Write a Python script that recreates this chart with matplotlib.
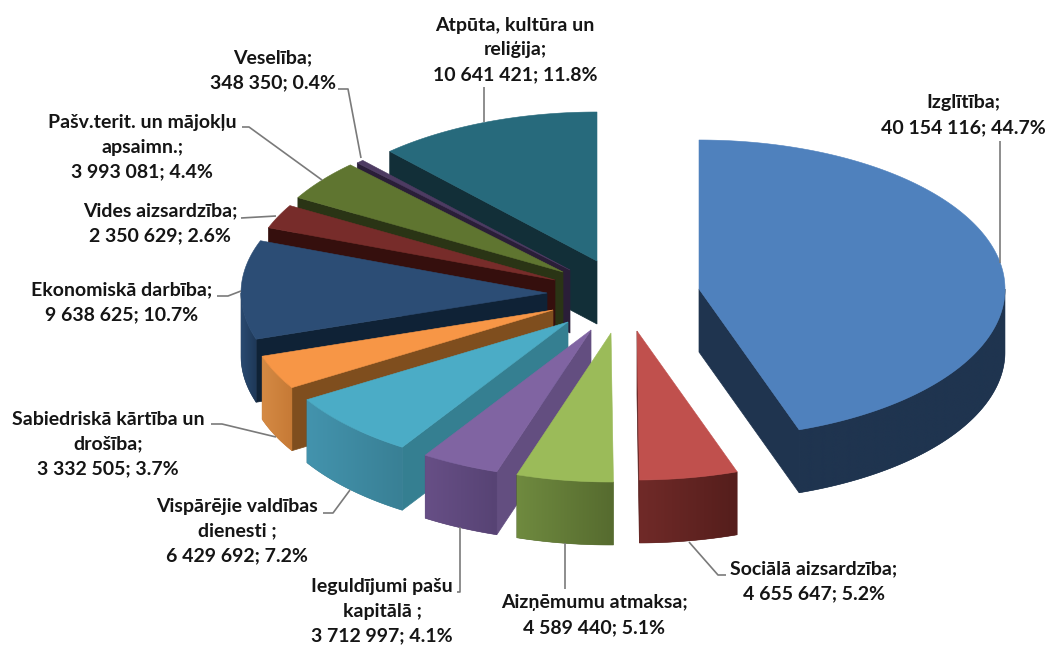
import numpy as np
import matplotlib
matplotlib.use("Agg")
import matplotlib.pyplot as plt
from matplotlib.colors import to_rgb
from matplotlib.patches import Polygon

# --- data ---
names = ["Izglītība;", "Sociālā aizsardzība;", "Aizņēmumu atmaksa;",
         "Ieguldījumi pašu\nkapitālā ;", "Vispārējie valdības\ndienesti ;",
         "Sabiedriskā kārtība un\ndrošība;", "Ekonomiskā darbība;",
         "Vides aizsardzība;", "Pašv.terit. un mājokļu\napsaimn.;",
         "Veselība;", "Atpūta, kultūra un\nreliģija;"]
values = [40154116, 4655647, 4589440, 3712997, 6429692, 3332505,
          9638625, 2350629, 3993081, 348350, 10641421]

# --- style / layout ---
top_colors = ["#4F81BD", "#C0504D", "#9BBB59", "#8064A2", "#4BACC6", "#F79646",
              "#2C4D75", "#772C2A", "#5F7530", "#4D3B62", "#276A7C"]
wall_colors = ["#1F344F", "#5A201E", "#5F7530", "#634E80", "#357F91", "#7F4E1E",
               "#0F2236", "#350F0D", "#2A3415", "#2A1E38", "#122F38"]
rim_left = ["#1F344F", "#702A28", "#6F8A3F", "#674F86", "#4393AD", "#D58A44",
            "#2A4A71", "#772C2A", "#5F7530", "#4D3B62", "#276A7C"]
rim_right = ["#1F344F", "#551E1C", "#566B2F", "#574374", "#398095", "#C67A36",
             "#1E3857", "#772C2A", "#5F7530", "#4D3B62", "#276A7C"]
apex_dx = [102, 40, 14, -6, -29, -44, -50, -42, -34, -27, 0]
apex_dy = [28, 70, 72, 69, 61, 49, 32, 19, 11, 9, 0]
centre_x, centre_y = 597, 261
rx, ry, depth = 306, 149, 63

label_x = [963, 814, 594, 382, 237, 108, 122, 160, 142, 273, 515]
label_y = [115, 581, 615, 611, 531, 444, 302, 223, 147, 70, 50]
leaders = [[(1000, 141), (1000, 263)],
           [(726, 575), (718, 575), (689, 542)],
           [(565, 543), (565, 589)],
           [(457, 592), (460, 592), (460, 527)],
           [(323, 513), (333, 513), (350, 490)],
           [(211, 424), (222, 424), (276, 437)],
           [(217, 296), (228, 296), (241, 291)],
           [(241, 218), (276, 216)],
           [(242, 127), (249, 127), (322, 180)],
           [(338, 89), (348, 89), (361, 158)],
           [(484, 87), (484, 122)]]

plt.rcParams["font.family"] = ["Lato", "DejaVu Sans"]
fig = plt.figure(figsize=(10.46, 6.45), dpi=100, facecolor="white")
ax = fig.add_axes([0, 0, 1, 1])
ax.set_xlim(0, 1046)
ax.set_ylim(645, 0)
ax.set_autoscale_on(False)
ax.axis("off")

total = sum(values)
fracs = np.array(values) / total
ends = np.cumsum(fracs) * 360
starts = ends - fracs * 360


def pt(cx, cy, deg):
    r = np.radians(deg)
    return cx + rx * np.sin(r), cy - ry * np.cos(r)


mids = (starts + ends) / 2
order = sorted(range(len(values)), key=lambda i: -abs(mids[i] - 180))
for z, i in enumerate(order):
    a, b = starts[i], ends[i]
    cx, cy = centre_x + apex_dx[i], centre_y + apex_dy[i]
    base = z * 10 + 2
    # radial walls that face the viewer
    for ang, show in ((a, 180 <= a < 360), (b, 0 < b <= 180)):
        if show:
            px, py = pt(cx, cy, ang)
            ax.add_patch(Polygon([(cx, cy), (px, py), (px, py + depth), (cx, cy + depth)],
                                 closed=True, fc=wall_colors[i], ec=wall_colors[i],
                                 lw=0.5, zorder=base))
    # outer rim on the near half, shaded left to right
    lo, hi = max(a, 90), min(b, 270)
    if hi > lo:
        angs = np.linspace(lo, hi, int((hi - lo) * 2) + 2)
        upper = [pt(cx, cy, t) for t in angs]
        lower = [(x, y + depth) for x, y in upper][::-1]
        rim = Polygon(upper + lower, closed=True, fc=rim_right[i], ec=rim_right[i],
                      lw=0.4, zorder=base + 1)
        ax.add_patch(rim)
        xs = [p[0] for p in upper]
        ys = [p[1] for p in upper + lower]
        cl, cr = np.array(to_rgb(rim_left[i])), np.array(to_rgb(rim_right[i]))
        ramp = np.linspace(0, 1, 64)[:, None]
        img = (cl[None, :] * (1 - ramp) + cr[None, :] * ramp)[None, :, :]
        im = ax.imshow(img, extent=(min(xs), max(xs), max(ys), min(ys)), aspect="auto",
                       interpolation="bilinear", zorder=base + 1.5)
        im.set_clip_path(rim)
    # top face
    angs = np.linspace(a, b, max(int(b - a), 2) * 2 + 1)
    verts = [(cx, cy)] + [pt(cx, cy, t) for t in angs]
    ax.add_patch(Polygon(verts, closed=True, fc=top_colors[i], ec=top_colors[i],
                         lw=0.4, zorder=base + 2))

for i, pts in enumerate(leaders):
    xs, ys = zip(*pts)
    ax.plot(xs, ys, color="#7a7a7a", lw=1.2, zorder=300, solid_capstyle="butt")
    txt = f"{names[i]}\n" + f"{values[i]:,}".replace(",", " ") + f"; {fracs[i] * 100:.1f}%"
    ax.text(label_x[i], label_y[i], txt, ha="center", va="center", ma="center",
            fontsize=14, fontweight="bold", color="#151515", linespacing=1.55,
            zorder=301)

ax.set_xlim(0, 1046)
ax.set_ylim(645, 0)
fig.savefig("out.png", dpi=100, facecolor="white")
